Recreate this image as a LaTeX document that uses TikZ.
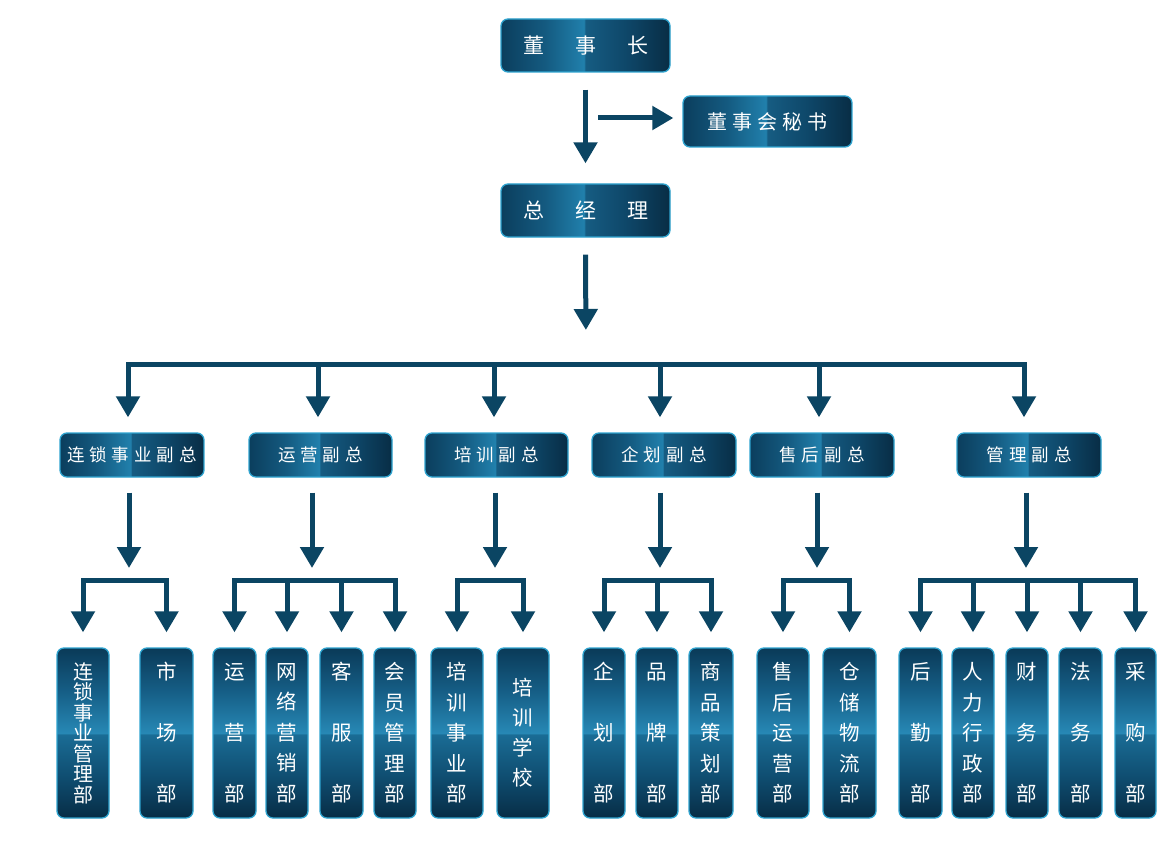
\documentclass[tikz,border=0pt]{standalone}
\usepackage{fontspec}
\setmainfont{Noto Sans CJK SC}
\usetikzlibrary{arrows.meta}
\definecolor{arrc}{HTML}{0B4563}
\definecolor{bord}{HTML}{2EA3CF}
\definecolor{ha}{HTML}{0B3E5D}
\definecolor{hb}{HTML}{145A80}
\definecolor{hc}{HTML}{2180AC}
\definecolor{hd}{HTML}{165C82}
\definecolor{he}{HTML}{0E4769}
\definecolor{hf}{HTML}{082D45}
\definecolor{va}{HTML}{072D46}
\definecolor{vb}{HTML}{0F4D70}
\definecolor{vc}{HTML}{1A6C95}
\definecolor{vd}{HTML}{2788B5}
\definecolor{ve}{HTML}{165F87}
\definecolor{vf}{HTML}{0A3A58}
\pgfdeclarehorizontalshading{hbox}{100bp}{color(0bp)=(ha); color(25bp)=(ha); color(38bp)=(hb); color(49.5bp)=(hc); color(50bp)=(hd); color(62bp)=(he); color(75bp)=(hf); color(100bp)=(hf)}
\pgfdeclareverticalshading{vbox}{100bp}{color(0bp)=(va); color(25bp)=(va); color(37bp)=(vb); color(49.5bp)=(vc); color(50bp)=(vd); color(62bp)=(ve); color(75bp)=(vf); color(100bp)=(vf)}
\newcommand\gp{\hspace{5pt}}
\newcommand\wgp{\hspace{31pt}}
\begin{document}
\begin{tikzpicture}[x=1pt,y=-1pt,
  boxbase/.style={draw=bord, line width=1.3pt, rounded corners=7pt, text=white, inner sep=0pt},
  topbox/.style={boxbase, shading=hbox, minimum width=169pt, minimum height=53pt, font=\fontsize{21}{25}\selectfont},
  hdrbox/.style={boxbase, shading=hbox, minimum width=144pt, minimum height=44pt, font=\fontsize{17.5}{21}\selectfont},
  vbase/.style={boxbase, shading=vbox, minimum height=170pt, align=center},
  vthree/.style={vbase, font=\fontsize{20.5}{61}\selectfont},
  vfive/.style={vbase, font=\fontsize{20.5}{30.5}\selectfont},
  vseven/.style={vbase, font=\fontsize{20}{20.5}\selectfont},
  arr/.style={draw=arrc, line width=5pt, -{Triangle[width=23pt,length=21pt]}},
  busline/.style={draw=arrc, line width=5pt, line cap=rect}]
\useasboundingbox (0,0) rectangle (1169,845);

% top level
\node[topbox] (dsz) at (585.5,45.5) {董\wgp{}事\wgp{}长};
\node[topbox, minimum height=51pt, font=\fontsize{20}{24}\selectfont] (ms) at (767.5,121.5) {董\gp{}事\gp{}会\gp{}秘\gp{}书};
\node[topbox] (zjl) at (585.5,210.5) {总\wgp{}经\wgp{}理};

\coordinate (hs) at (586,118);
\coordinate (top) at (586,364);
\draw[arr, shorten <=17pt, shorten >=20pt] (dsz.south) -- (zjl.north);
\draw[arr, shorten <=12pt, shorten >=9pt] (hs) -- (hs -| ms.west);
\draw[arr, shorten <=17pt, shorten >=34pt] (zjl.south) -- (top);

% vice presidents
\node[hdrbox] (h1) at (132,455) {连\gp{}锁\gp{}事\gp{}业\gp{}副\gp{}总};
\node[hdrbox, minimum width=143pt] (h2) at (320.5,455) {运\gp{}营\gp{}副\gp{}总};
\node[hdrbox, minimum width=143pt] (h3) at (496.5,455) {培\gp{}训\gp{}副\gp{}总};
\node[hdrbox] (h4) at (664,455) {企\gp{}划\gp{}副\gp{}总};
\node[hdrbox] (h5) at (822,455) {售\gp{}后\gp{}副\gp{}总};
\node[hdrbox] (h6) at (1029,455) {管\gp{}理\gp{}副\gp{}总};

\coordinate (t1) at (128,364);
\coordinate (t2) at (318,364);
\coordinate (t3) at (494,364);
\coordinate (t4) at (660,364);
\coordinate (t5) at (819,364);
\coordinate (t6) at (1024,364);
\draw[busline] (t1) -- (t6);
\foreach \i in {1,...,6}
  \draw[arr, shorten >=15pt] (t\i) -- (t\i |- h\i.north);

% departments
\node[vseven, minimum width=52pt] (b11) at (83,733) {连\\锁\\事\\业\\管\\理\\部};
\node[vthree, minimum width=53pt] (b12) at (166.5,733) {市\\场\\部};
\node[vthree, minimum width=43pt] (b21) at (234.5,733) {运\\营\\部};
\node[vfive, minimum width=42pt] (b22) at (287,733) {网\\络\\营\\销\\部};
\node[vthree, minimum width=43pt] (b23) at (341.5,733) {客\\服\\部};
\node[vfive, minimum width=42pt] (b24) at (395,733) {会\\员\\管\\理\\部};
\node[vfive, minimum width=52pt] (b31) at (457,733) {培\\训\\事\\业\\部};
\node[vfive, font=\fontsize{20.5}{30}\selectfont, minimum width=52pt] (b32) at (523,733) {培\\训\\学\\校};
\node[vthree, minimum width=42pt] (b41) at (604,733) {企\\划\\部};
\node[vthree, minimum width=42pt] (b42) at (657,733) {品\\牌\\部};
\node[vfive, minimum width=44pt] (b43) at (711,733) {商\\品\\策\\划\\部};
\node[vfive, minimum width=52pt] (b51) at (783,733) {售\\后\\运\\营\\部};
\node[vfive, minimum width=53pt] (b52) at (849.5,733) {仓\\储\\物\\流\\部};
\node[vthree, minimum width=43pt] (b61) at (920.5,733) {后\\勤\\部};
\node[vfive, minimum width=42pt] (b62) at (973,733) {人\\力\\行\\政\\部};
\node[vthree, minimum width=42pt] (b63) at (1027,733) {财\\务\\部};
\node[vthree, minimum width=43pt] (b64) at (1080.5,733) {法\\务\\部};
\node[vthree, minimum width=41pt] (b65) at (1135.5,733) {采\\购\\部};

\coordinate (j1) at (129,580);
\coordinate (j2) at (312,580);
\coordinate (j3) at (495,580);
\coordinate (j4) at (660,580);
\coordinate (j5) at (817,580);
\coordinate (j6) at (1026,580);
\foreach \i in {1,...,6}
  \draw[arr, shorten <=15pt, shorten >=12pt] (h\i.south -| j\i) -- (j\i);

\draw[busline] (j1 -| b11) -- (j1 -| b12);
\draw[busline] (j2 -| b21) -- (j2 -| b24);
\draw[busline] (j3 -| b31) -- (j3 -| b32);
\draw[busline] (j4 -| b41) -- (j4 -| b43);
\draw[busline] (j5 -| b51) -- (j5 -| b52);
\draw[busline] (j6 -| b61) -- (j6 -| b65);

\foreach \g/\n in {1/2,2/4,3/2,4/3,5/2,6/5}
  \foreach \k in {1,...,\n}
    \draw[arr, shorten >=15pt] (j\g -| b\g\k) -- (b\g\k.north);
\end{tikzpicture}
\end{document}
